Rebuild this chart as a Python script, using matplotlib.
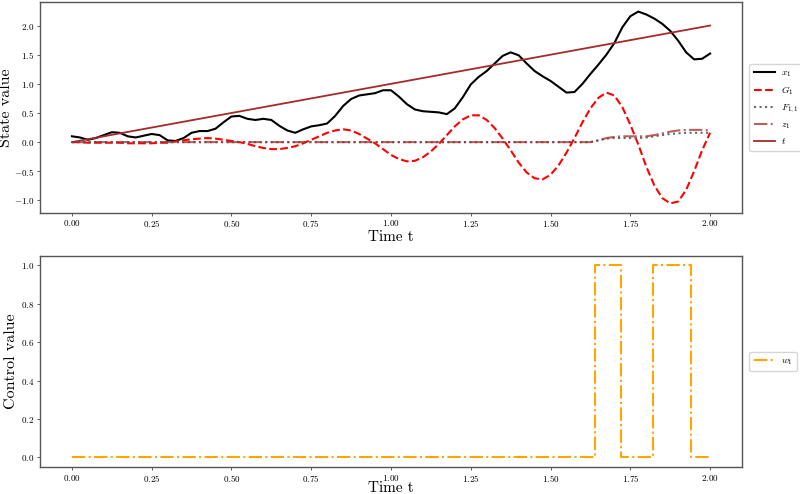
import numpy as np
import matplotlib
matplotlib.use("Agg")
import matplotlib.pyplot as plt

plt.rcParams['font.family'] = ['cmr10', 'DejaVu Serif']
plt.rcParams['mathtext.fontset'] = 'cm'
plt.rcParams['axes.formatter.use_mathtext'] = True
plt.rcParams['axes.unicode_minus'] = True

time = np.round(np.arange(81) * 0.025, 3)

x1 = [0.10, 0.08, 0.04, 0.07, 0.12, 0.17, 0.16, 0.10, 0.08, 0.11,
      0.14, 0.12, 0.03, 0.02, 0.07, 0.16, 0.19, 0.19, 0.23, 0.34,
      0.44, 0.45, 0.40, 0.38, 0.40, 0.38, 0.28, 0.20, 0.16, 0.22,
      0.27, 0.29, 0.32, 0.45, 0.62, 0.74, 0.80, 0.82, 0.84, 0.89,
      0.89, 0.78, 0.65, 0.56, 0.53, 0.52, 0.51, 0.48, 0.58, 0.77,
      0.99, 1.12, 1.22, 1.35, 1.48, 1.54, 1.49, 1.35, 1.22, 1.13,
      1.05, 0.95, 0.85, 0.86, 1.00, 1.17, 1.33, 1.50, 1.70, 1.97,
      2.16, 2.24, 2.19, 2.12, 2.03, 1.91, 1.74, 1.54, 1.42, 1.43,
      1.52]

G1 = [0.00, 0.00, -0.01, -0.01, -0.01, -0.01, -0.01, -0.02, -0.02, -0.02,
      -0.02, -0.01, -0.01, 0.01, 0.03, 0.05, 0.06, 0.07, 0.06, 0.04,
      0.02, 0.00, -0.03, -0.07, -0.10, -0.12, -0.12, -0.10, -0.07, -0.02,
      0.04, 0.10, 0.16, 0.20, 0.22, 0.20, 0.14, 0.06, -0.02, -0.12,
      -0.22, -0.29, -0.33, -0.32, -0.26, -0.16, -0.03, 0.12, 0.27, 0.39,
      0.46, 0.46, 0.38, 0.24, 0.06, -0.14, -0.35, -0.52, -0.62, -0.64,
      -0.56, -0.40, -0.18, 0.07, 0.34, 0.58, 0.76, 0.85, 0.80, 0.60,
      0.30, -0.04, -0.42, -0.74, -0.96, -1.05, -1.02, -0.82, -0.50, -0.14,
      0.16]

F11 = [0.0] * 66 + [0.03, 0.06, 0.07, 0.07, 0.07, 0.07, 0.08, 0.10,
                    0.12, 0.14, 0.15, 0.16, 0.16, 0.16, 0.16]
F11 = F11[:81]

z1 = [0.0] * 66 + [0.03, 0.07, 0.09, 0.10, 0.10, 0.10, 0.10, 0.12,
                   0.15, 0.18, 0.20, 0.21, 0.21, 0.21, 0.20]
z1 = z1[:81]

w_times = [0.0, 1.64, 1.72, 1.82, 1.94, 2.0]
w1 = [0, 1, 0, 1, 0, 0]

fig = plt.figure(figsize=(8, 4.94), dpi=100)
ax1 = fig.add_axes([0.05, 0.569, 0.8775, 0.427])
ax2 = fig.add_axes([0.05, 0.0547, 0.8775, 0.4274])

ax1.plot(time, x1, color='black', lw=1.5, label='$x_1$')
ax1.plot(time, G1, color='red', lw=1.5, ls='--', label='$G_1$')
ax1.plot(time, F11, color='dimgray', lw=1.5, ls=':', label='$F_{1,1}$')
ax1.plot(time, z1, color='brown', lw=1.5, ls='-.', alpha=0.75, label='$z_1$')
ax1.plot(time, time, color='#a52a2a', lw=1.3, label='$t$')

ax2.plot(w_times, w1, color='orange', lw=1.5, ls='-.', drawstyle='steps-post', label='$w_1$')

for ax in (ax1, ax2):
    ax.set_xlabel('Time t', fontsize=11)
    ax.set_xticks(np.arange(0, 2.01, 0.25))
    ax.tick_params(labelsize=6.5, length=2.5, width=0.6, color='#444444', pad=1.5)
    for s in ax.spines.values():
        s.set_color('#555555')
        s.set_linewidth(1.0)
    leg = ax.legend(loc='center left', bbox_to_anchor=(1.006, 0.5), fontsize=7,
                    frameon=True, handlelength=2.2, labelspacing=0.55,
                    borderpad=0.45, handletextpad=0.6, borderaxespad=0.3,
                    fancybox=True)
    leg.get_frame().set_edgecolor('#cccccc')

ax1.set_yticks(np.arange(-1.0, 2.01, 0.5))
ax1.set_ylabel('State value', fontsize=11.5)
ax2.set_yticks(np.arange(0, 1.01, 0.2))
ax2.set_ylabel('Control value', fontsize=11.5)

ax1.xaxis.set_label_coords(0.5, -0.084)
ax2.xaxis.set_label_coords(0.5, -0.07)
ax1.yaxis.set_label_coords(-0.039, 0.5)
ax2.yaxis.set_label_coords(-0.032, 0.5)

fig.savefig('out.png', dpi=100)
